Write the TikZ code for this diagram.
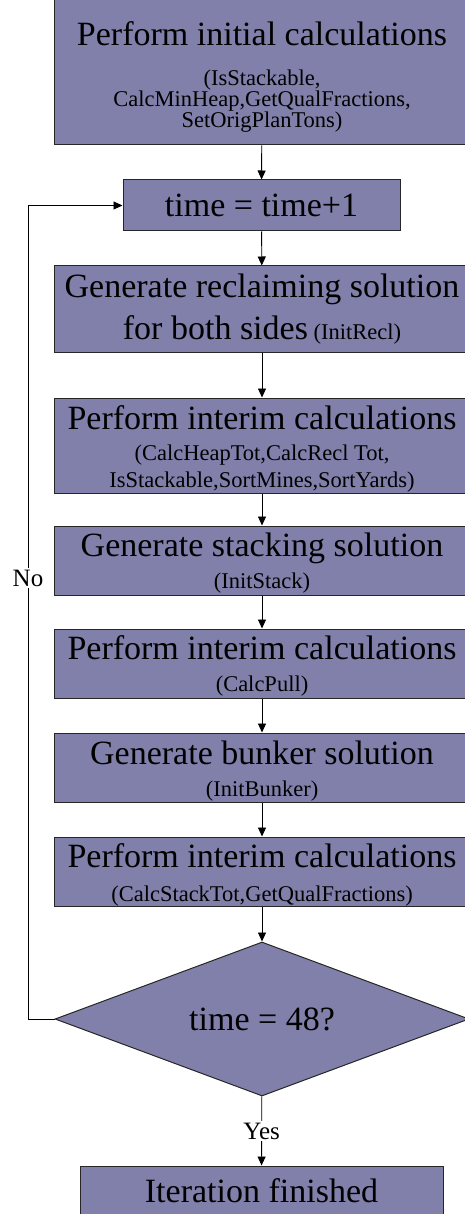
\documentclass[tikz,border=0pt]{standalone}
\usepackage{fontspec}
\setmainfont{Liberation Serif}
\usepackage{tikz}
\usetikzlibrary{arrows.meta,shapes.geometric}

\definecolor{procfill}{RGB}{128,128,170}
\newcommand{\bigtxt}{\fontsize{34}{34}\selectfont}
\newcommand{\smalltxt}{\fontsize{22.5}{32}\selectfont\lineskiplimit=-100pt}
\newcommand{\lift}[1]{\rule{0pt}{#1}}

\begin{document}
\begin{tikzpicture}[
  x={(1pt,0pt)},
  y={(0pt,-1pt)},
  procbox/.style={draw=black!85, fill=procfill, line width=1pt, inner sep=0pt,
    minimum width=416pt, align=center, font=\smalltxt},
  decbox/.style={diamond, draw=black!85, fill=procfill, line width=1pt, inner sep=0pt,
    minimum width=414pt, minimum height=154pt, aspect=2.69, font=\bigtxt},
  flow/.style={-{Triangle[length=9pt,width=8pt]}, line width=0.9pt},
  branch/.style={fill=white, inner sep=1.5pt, font=\fontsize{25}{25}\selectfont}
]
\useasboundingbox (0,0) rectangle (464,1214);

\node[procbox, minimum height=146pt] (init) at (262,72) {\lift{33pt}{\bigtxt Perform initial calculations}\\[8pt]
  (IsStackable,\\[-11pt] CalcMinHeap,GetQualFractions,\\[-11pt] SetOrigPlanTons)};
\node[procbox, minimum width=277pt, minimum height=51pt, font=\bigtxt] (tick) at (261.5,205.5) {time = time+1};
\node[procbox, minimum height=86pt] (recl) at (262,309) {{\bigtxt Generate reclaiming solution}\\[10pt]
  {\bigtxt for both sides} (InitRecl)};
\node[procbox, minimum height=95pt] (calc1) at (262,445.5) {\lift{30pt}{\bigtxt Perform interim calculations}\\[-1pt]
  (CalcHeapTot,CalcRecl Tot,\\[-5pt] IsStackable,SortMines,SortYards)};
\node[procbox, minimum height=69pt] (stack) at (262,560.5) {\lift{28pt}{\bigtxt Generate stacking solution}\\ (InitStack)};
\node[procbox, minimum height=69pt] (calc2) at (262,663.5) {\lift{29pt}{\bigtxt Perform interim calculations}\\ (CalcPull)};
\node[procbox, minimum height=69pt] (bunker) at (262,767.5) {\lift{30pt}{\bigtxt Generate bunker solution}\\ (InitBunker)};
\node[procbox, minimum height=69pt] (calc3) at (262,871.5) {\lift{30pt}{\bigtxt Perform interim calculations}\\[2pt] (CalcStackTot,GetQualFractions)};
\node[decbox] (check) at (262,1019) {time = 48?};
\node[procbox, minimum width=363pt, minimum height=50pt, font=\bigtxt] (done) at (261.5,1191) {Iteration finished};

\draw[flow] (init) -- (tick);
\draw[flow] (tick) -- (recl);
\draw[flow] (recl) -- (calc1);
\draw[flow] (calc1) -- (stack);
\draw[flow] (stack) -- (calc2);
\draw[flow] (calc2) -- (bunker);
\draw[flow] (bunker) -- (calc3);
\draw[flow] (calc3) -- (check);
\draw[flow] (check) -- node[branch] {Yes} (done);

% loop back
\coordinate (back) at (28,1019);
\draw[flow] (check.west) -- (back) |- (tick.west);
\node[branch] (no) at (28,578) {No};
\end{tikzpicture}
\end{document}
